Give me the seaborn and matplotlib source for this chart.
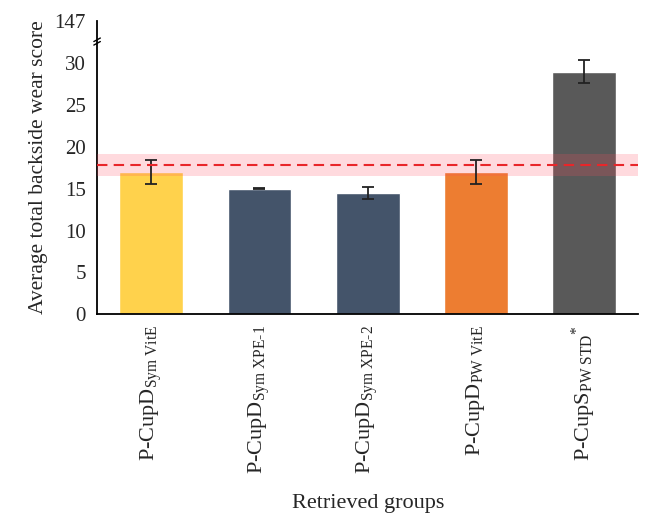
import matplotlib
matplotlib.use('Agg')
import matplotlib.pyplot as plt
import seaborn as sns
import pandas as pd

# values
groups = [r'P-CupD$_{\mathrm{Sym\ VitE}}$',
          r'P-CupD$_{\mathrm{Sym\ XPE\text{-}1}}$',
          r'P-CupD$_{\mathrm{Sym\ XPE\text{-}2}}$',
          r'P-CupD$_{\mathrm{PW\ VitE}}$',
          r'P-CupS$_{\mathrm{PW\ STD}}{}^{*}$']
scores = [17.0, 15.0, 14.5, 17.0, 29.0]
errors = [1.4, 0.05, 0.75, 1.45, 1.4]
bar_colors = ['#FFD24C', '#44546A', '#44546A', '#ED7D31', '#595959']

ref_mean = 17.8
ref_low = 16.5
ref_high = 19.2

yticks = [0, 5, 10, 15, 20, 25, 30]
top_label = '147'

df = pd.DataFrame({'group': groups, 'score': scores})

sns.set_style('white')
plt.rcParams['font.family'] = ['Liberation Serif', 'DejaVu Serif']
plt.rcParams['mathtext.fontset'] = 'custom'
plt.rcParams['mathtext.rm'] = 'Liberation Serif'
plt.rcParams['mathtext.it'] = 'Liberation Serif:italic'

fig = plt.figure(figsize=(6.56, 5.29), dpi=100)
ax = fig.add_axes([0.148, 0.406, 0.825, 0.555])

sns.barplot(data=df, x='group', y='score', hue='group', palette=bar_colors,
            width=0.59, saturation=1, legend=False, ax=ax, errorbar=None)
ax.errorbar(range(len(groups)), scores, yerr=errors, fmt='none',
            ecolor='#222222', elinewidth=1.3, capsize=4, capthick=1.3, zorder=5)

# reference band and mean line
ax.axhspan(ref_low, ref_high, color='#FF4A5A', alpha=0.2, lw=0, zorder=4)
ax.axhline(ref_mean, color='#E8262A', ls=(0, (5, 3)), lw=1.5, zorder=6)

top = 35.1
ax.set_xlim(-0.5, len(groups) - 0.5)
ax.set_ylim(0, top)
ax.set_yticks(yticks + [top])
ax.set_yticklabels([str(t) for t in yticks] + [top_label], fontsize=15)

# x ticks sit between the bars, labels at bar centres
ax.set_xticks([i + 0.5 for i in range(len(groups))])
ax.set_xticklabels([])
ax.set_xticks(range(len(groups)), minor=True)
ax.set_xticklabels(groups, minor=True, rotation=90, fontsize=16)
ax.tick_params(axis='x', which='minor', length=0, pad=8)
ax.tick_params(axis='x', which='major', direction='out', length=4, width=1.2)
ax.tick_params(axis='y', direction='out', length=4, width=1.2, pad=4)

for s in ['top', 'right']:
    ax.spines[s].set_visible(False)
for s in ['left', 'bottom']:
    ax.spines[s].set_linewidth(1.3)
    ax.spines[s].set_color('black')

# axis break marks
yb = 32.6 / top
for dy in (-0.006, 0.006):
    ax.plot([-0.006, 0.006], [yb + dy - 0.006, yb + dy + 0.006], color='black',
            lw=1.0, transform=ax.transAxes, clip_on=False, zorder=10)

ax.set_xlabel('Retrieved groups', fontsize=16, labelpad=14)
ax.set_ylabel('Average total backside wear score', fontsize=15.5, labelpad=5)

fig.savefig('out.png', dpi=100)
